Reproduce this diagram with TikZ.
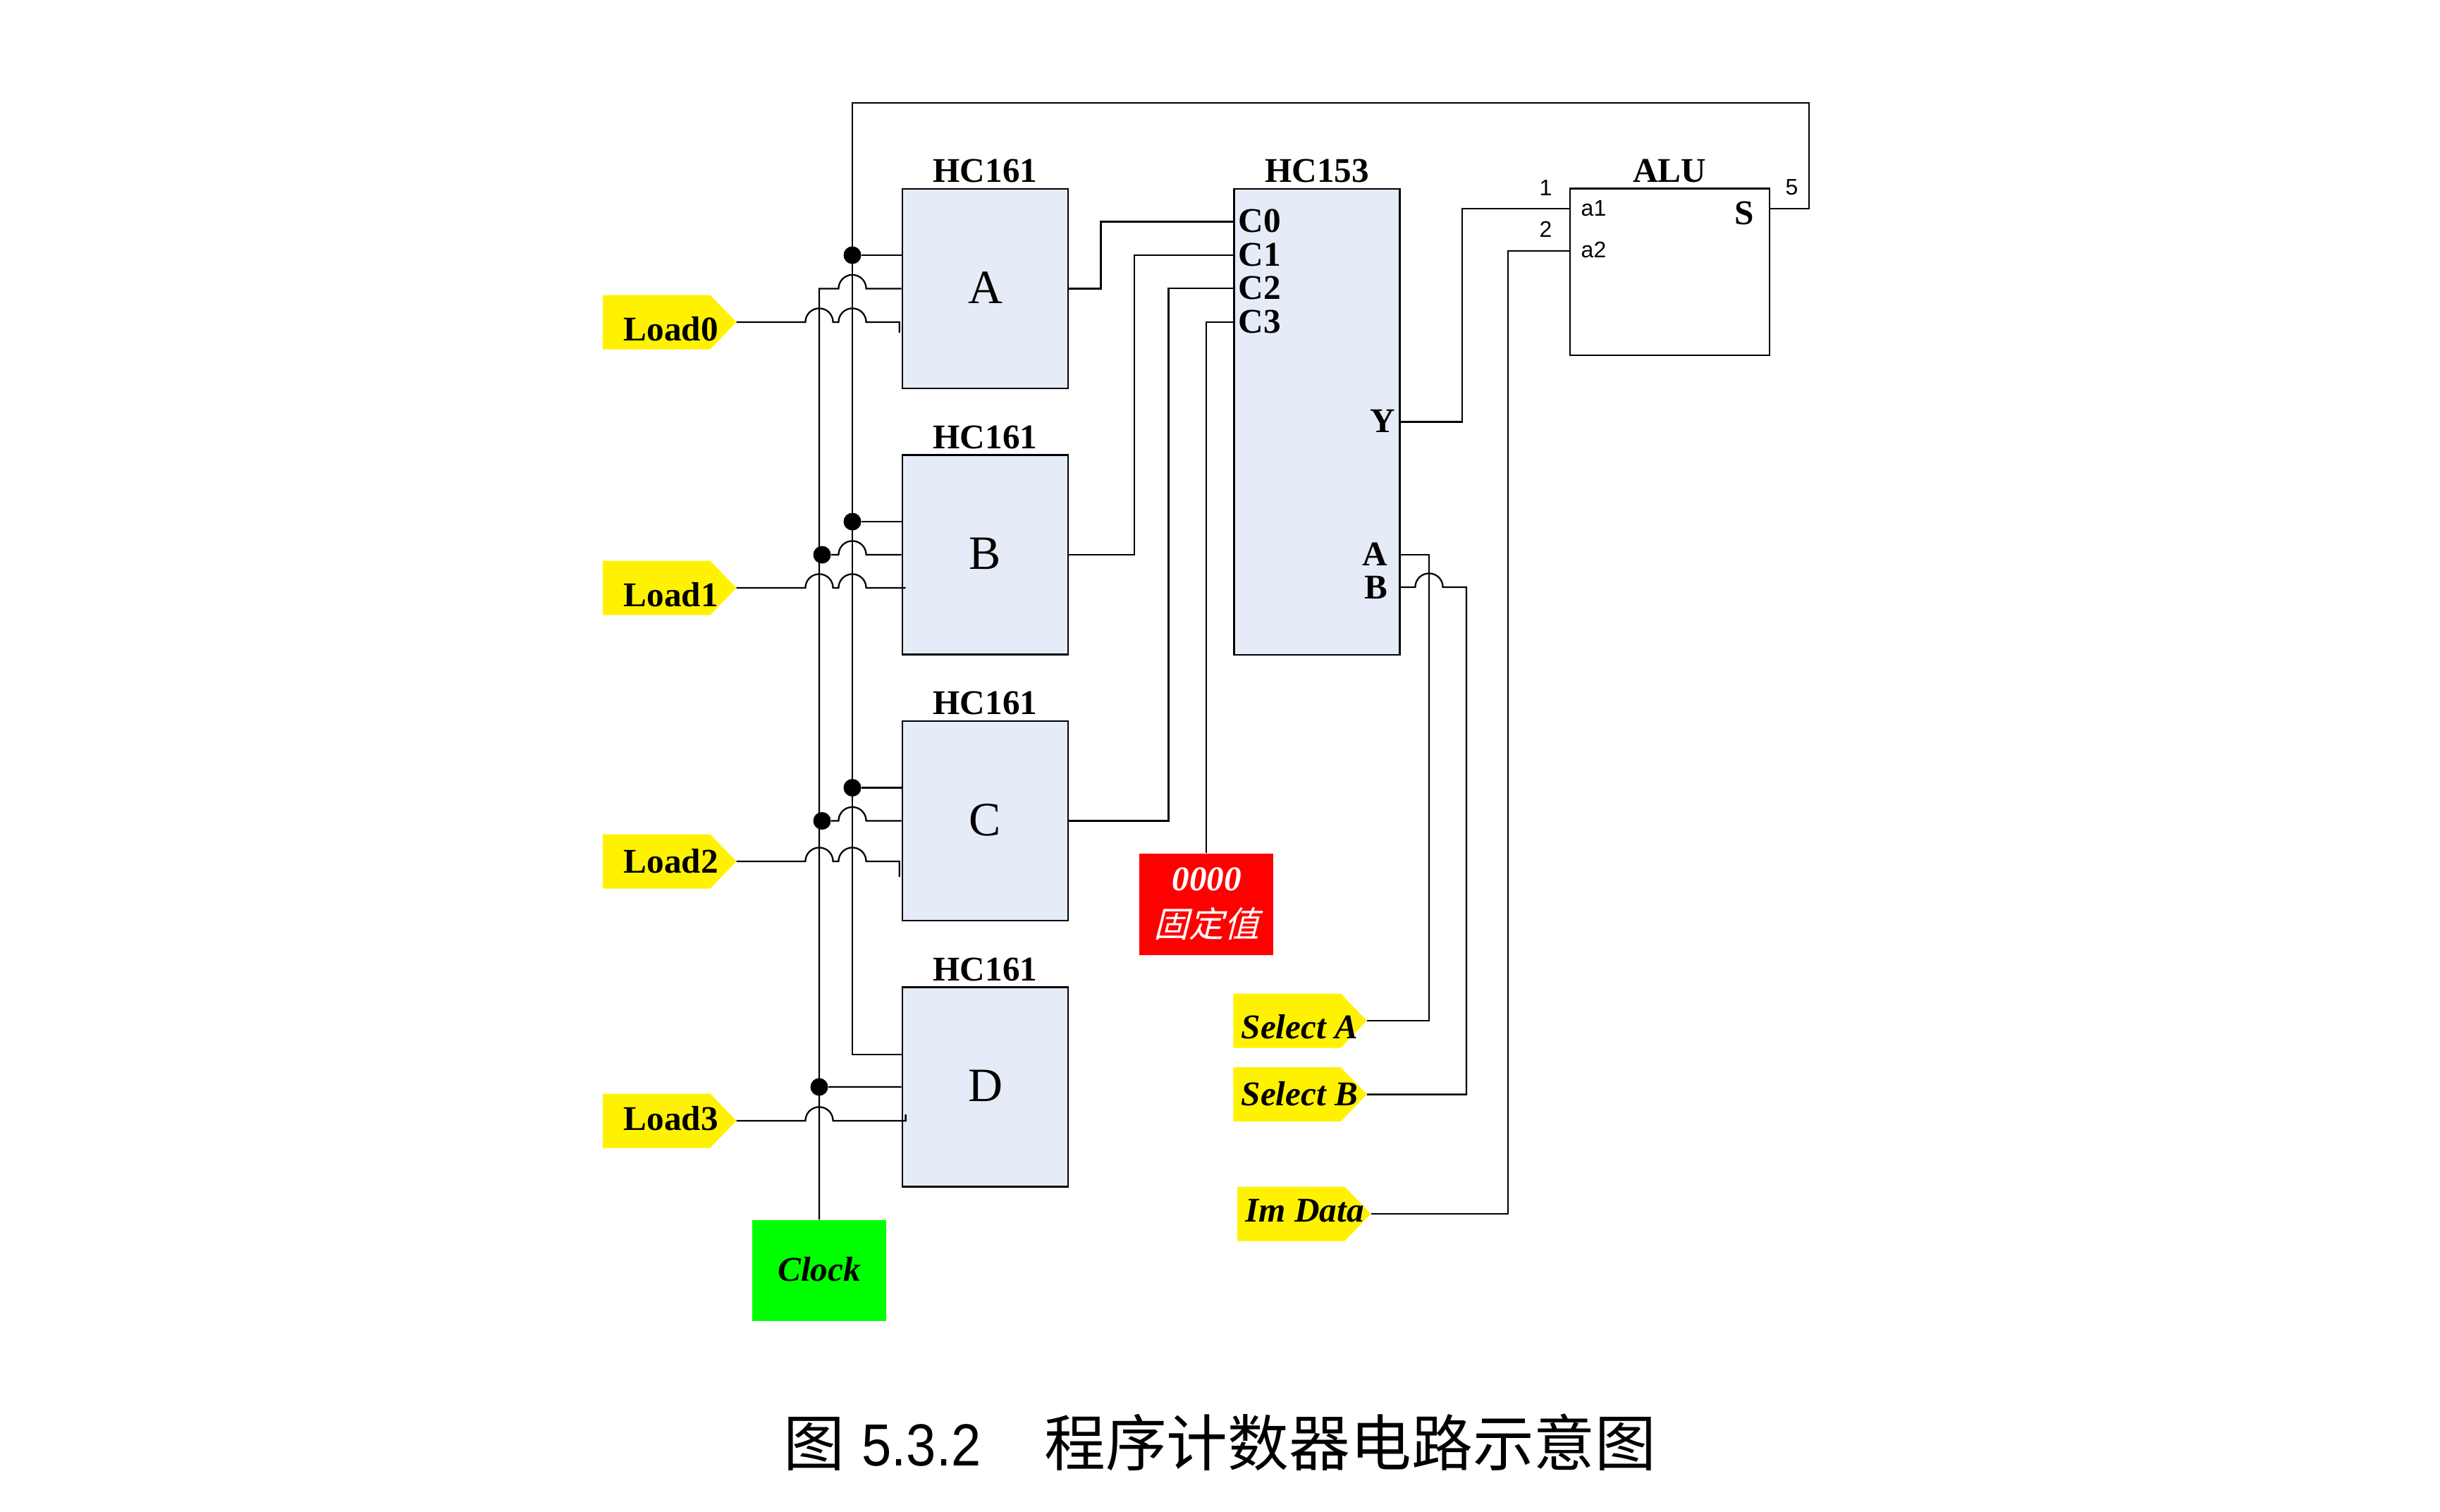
\documentclass[tikz,border=0pt]{standalone}
\usepackage{fontspec}
\setmainfont{Liberation Serif}
\newfontfamily\cjk{Noto Sans CJK SC}
\newfontfamily\cjkslant[FakeSlant=.25]{Noto Sans CJK SC}
\newfontfamily\arial{Liberation Sans}
\usetikzlibrary{shapes,positioning}
\definecolor{blockblue}{RGB}{230,236,247}
\tikzstyle{wire} = [line width=.65pt]
\tikzstyle{hop} = [start angle=180, end angle=0, radius=.196cm]
\tikzstyle{block} = [rectangle, draw, line width=.75pt, fill=blockblue, minimum width=2.35cm, minimum height=2.83cm, inner sep=0pt, text depth=.03cm, font=\fontsize{19.3}{22}\selectfont]
\tikzstyle{title} = [inner sep=0pt, font=\bfseries\fontsize{14}{16}\selectfont]
\tikzstyle{pinname} = [inner sep=0pt, anchor=base west, font=\bfseries\fontsize{14}{16}\selectfont]
\tikzstyle{pinnum} = [inner sep=0pt, anchor=base west, font=\arial\fontsize{9.1}{11}\selectfont]
\tikzstyle{dot} = [circle, fill=black, minimum size=.25cm, inner sep=0pt]
\tikzstyle{tag} = [signal, signal to=east, signal pointer angle=92, fill=yellow, anchor=west, minimum width=1.895cm, minimum height=.77cm, inner sep=0pt, outer sep=0pt]
\tikzstyle{tagname} = [inner sep=0pt, anchor=base west, font=\bfseries\fontsize{14}{16}\selectfont]
\tikzstyle{tagslant} = [inner sep=0pt, anchor=base west, font=\bfseries\itshape\fontsize{14}{16}\selectfont]
\begin{document}
\begin{tikzpicture}[x=1cm, y=-1cm, node distance=3.775cm]
    \useasboundingbox (0,0) rectangle (34.61,21.45);

    % HC161
    \node[block] (A) at (13.975,4.095) {A};
    \node[block, below of=A] (B) {B};
    \node[block, below of=B] (C) {C};
    \node[block, below of=C] (D) {D};
    \node[title, above=.07cm of A] (titleA) {HC161};
    \node[title, above=.07cm of B] (titleB) {HC161};
    \node[title, above=.07cm of C] (titleC) {HC161};
    \node[title, above=.07cm of D] (titleD) {HC161};

    % HC153
    \node[block, minimum height=6.61cm] (HC153) at (18.68,5.985) {};
    \node[title, above=.07cm of HC153] (titleMux) {HC153};
    \node[pinname] (labC0) at (17.56,3.29) {C0};
    \node[pinname] (labC1) at (17.56,3.77) {C1};
    \node[pinname] (labC2) at (17.56,4.24) {C2};
    \node[pinname] (labC3) at (17.56,4.72) {C3};
    \node[pinname] (labY) at (19.43,6.135) {Y};
    \node[pinname] (labA) at (19.32,8.02) {A};
    \node[pinname] (labB) at (19.35,8.49) {B};

    % ALU
    \node[block, fill=white, minimum width=2.83cm, minimum height=2.363cm] (ALU) at (23.683,3.859) {};
    \node[title, above=.07cm of ALU] (titleALU) {ALU};
    \node[pinname] (labS) at (24.6,3.18) {S};
    \node[pinnum] (laba1) at (22.42,3.067) {a1};
    \node[pinnum] (laba2) at (22.42,3.653) {a2};
    \node[pinnum] (num1) at (21.83,2.777) {1};
    \node[pinnum] (num2) at (21.83,3.367) {2};
    \node[pinnum] (num5) at (25.32,2.767) {5};

    % inputs
    \node[tag] (Load0) at (8.55,4.57) {};
    \node[tag] (Load1) at (8.55,8.34) {};
    \node[tag] (Load2) at (8.55,12.22) {};
    \node[tag] (Load3) at (8.55,15.9) {};
    \node[tagname] (nameLoad0) at (8.84,4.83) {Load0};
    \node[tagname] (nameLoad1) at (8.84,8.607) {Load1};
    \node[tagname] (nameLoad2) at (8.84,12.38) {Load2};
    \node[tagname] (nameLoad3) at (8.84,16.038) {Load3};
    \node[tag] (SelA) at (17.493,14.48) {};
    \node[tag] (SelB) at (17.493,15.526) {};
    \node[tag] (ImData) at (17.55,17.22) {};
    \node[tagslant] (nameSelA) at (17.6,14.734) {Select A};
    \node[tagslant] (nameSelB) at (17.6,15.68) {Select B};
    \node[tagslant] (nameImData) at (17.66,17.337) {Im Data};
    \node[rectangle, fill=green, minimum width=1.902cm, minimum height=1.43cm, inner sep=0pt, text depth=.05cm, font=\bfseries\itshape\fontsize{14}{16}\selectfont] (Clock) at (11.62,18.025) {Clock};
    \node[rectangle, fill=red, text=white, minimum width=1.905cm, minimum height=1.437cm] (fixed) at (17.108,12.829) {};
    \node[inner sep=0pt, text=white, font=\bfseries\itshape\fontsize{14}{16}\selectfont] (fixedval) at (17.118,12.47) {0000};
    \node[inner sep=0pt, text=white, font=\cjkslant\fontsize{14.2}{16}\selectfont] (fixedname) at (17.118,13.1) {固定值};

    % junctions
    \node[dot] (dotA) at (12.09,3.62) {};
    \node[dot] (dotB) at (12.09,7.4) {};
    \node[dot] (dotC) at (12.09,11.175) {};
    \node[dot] (dotB2) at (11.66,7.87) {};
    \node[dot] (dotC2) at (11.66,11.645) {};
    \node[dot] (dotD) at (11.62,15.42) {};

    % buses
    \coordinate (pinS) at (25.098,2.963);
    \draw[wire] (pinS) -| (25.66,1.46) -| (12.09,14.96) -- (D.west |- 0,14.96);
    \draw[wire] (Clock.north) -- (11.62,4.095) -- (11.894,4.095) arc[hop] -- (A.west);
    \draw[wire] (dotA) -- (A.west |- dotA);
    \draw[wire] (dotB) -- (B.west |- dotB);
    \draw[wire] (dotC) -- (C.west |- dotC);
    \draw[wire] (dotB2) -- (11.894,7.87) arc[hop] -- (B.west);
    \draw[wire] (dotC2) -- (11.894,11.645) arc[hop] -- (C.west);
    \draw[wire] (dotD) -- (D.west);

    % load lines
    \draw[wire] (Load0.east) -- (11.424,4.57) arc[hop] -- (11.894,4.57) arc[hop] -- (12.757,4.57) -- (12.757,4.72);
    \draw[wire] (Load1.east) -- (11.424,8.34) arc[hop] -- (11.894,8.34) arc[hop] -- (12.846,8.34);
    \draw[wire] (Load2.east) -- (11.424,12.22) arc[hop] -- (11.894,12.22) arc[hop] -- (12.757,12.22) -- (12.757,12.44);
    \draw[wire] (Load3.east) -- (11.424,15.9) arc[hop] -- (12.846,15.9) -- (12.846,15.81);

    % to HC153
    \draw[wire] (A.east) -| (15.615,3.145) -- (HC153.west |- 0,3.145);
    \draw[wire] (B.east) -| (16.09,3.62) -- (HC153.west |- 0,3.62);
    \draw[wire] (C.east) -| (16.575,4.09) -- (HC153.west |- 0,4.09);
    \draw[wire] (fixed.north) |- (HC153.west |- 0,4.57);
    \draw[wire] (SelA.east) -| (20.27,7.87) -- (HC153.east |- 0,7.87);
    \draw[wire] (HC153.east |- 0,8.33) -- (20.074,8.33) arc[hop] -- (20.80,8.33) |- (SelB.east);

    % to ALU
    \draw[wire] (HC153.east) -| (20.737,2.963) -- (ALU.west |- pinS);
    \draw[wire] (ImData.east) -| (21.388,3.557) -- (ALU.west |- 0,3.557);

    \node[inner sep=0pt, anchor=base west, font=\cjk\fontsize{24.7}{30}\selectfont] (caption) at (11.11,20.79) {图\hspace{.24cm}\scalebox{.9}[1]{\arial\fontsize{24}{30}\selectfont 5.3.2}\hspace{.9cm}程序计数器电路示意图};
\end{tikzpicture}
\end{document}
